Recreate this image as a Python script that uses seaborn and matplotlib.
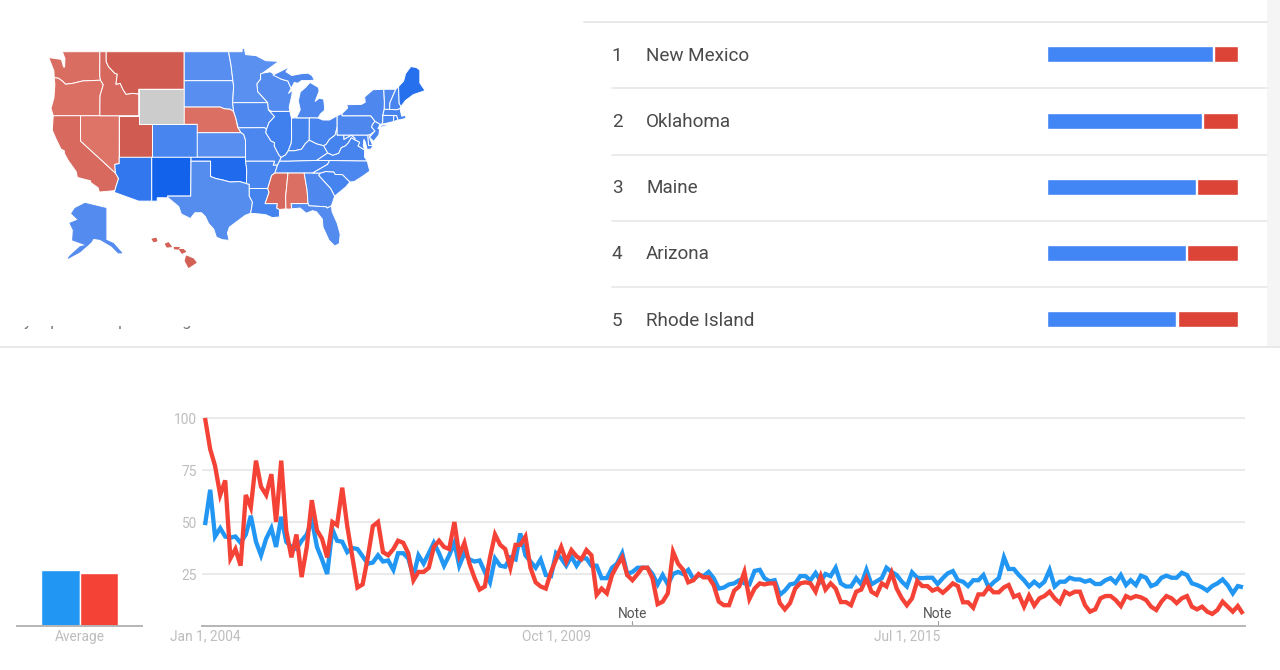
import numpy as np
import pandas as pd
import matplotlib
matplotlib.use('Agg')
import matplotlib.pyplot as plt
from matplotlib.patches import Polygon, Rectangle
from matplotlib.transforms import Bbox, TransformedBbox
import seaborn as sns

# ---- data ----
blue_term = [48.5, 65.5, 43, 47, 43, 42.5, 43, 40, 44, 53, 40.5, 34, 42, 47, 38, 52.5, 40.5, 38, 37, 41, 44, 51, 38, 32,
             25, 46.5, 41, 40.5, 35.5, 37.5, 37, 33.5, 30, 30.5, 34, 31, 31.5, 27, 35, 35, 32.5, 24, 34, 30, 35, 40, 35, 29,
             34, 40, 29, 35, 32, 31, 31.5, 26, 21, 32.5, 29, 28.5, 33, 32, 44.5, 34, 31, 28, 32, 24.5, 24,
             35, 32.5, 29, 33.5, 29, 32.5, 32.5, 29, 29, 23, 23, 28, 30, 35, 25, 26, 28, 28, 28, 25, 20, 24.5, 20, 25, 26, 25, 27,
             22.5, 24.5, 24, 26, 23, 18, 18.5, 20, 20.5, 22, 20.5, 20, 26.5, 27, 23, 21.5, 22, 15, 17, 20, 20.5, 24, 24, 22, 25.5,
             21.5, 25, 24, 28, 20.5, 19, 19, 23, 20, 27, 20, 21.5, 23, 28,
             26, 24.5, 21.3, 19, 25.8, 23.2, 23, 23.2, 23.2, 20.2, 23, 25.3, 26.4, 22, 21.3, 19.2, 22, 22, 24.5, 18.6,
             21, 23, 33, 27.4, 27.4, 24.5, 22, 19, 21.3, 19.2, 21.3, 27, 19, 21.3, 21.3, 23.2, 22.4, 22.4, 21.3, 22,
             20.2, 20.2, 22, 23, 20.8, 24.5, 19.7, 22, 19.7, 24.2, 23.2, 19.2, 20.2, 23.2, 24.2, 23.2, 23.2, 25.6, 24.5, 20.5,
             19.7, 18.6, 17, 19.2, 20.5, 22.4, 19.7, 15.7, 19.2, 18.6]
red_term = [100, 85, 77, 63, 70, 32.5, 37, 29, 63, 57, 79.5, 67, 63, 73, 50, 79.5, 46, 33, 44, 23.5, 38, 60.5, 46, 42,
            33, 50, 48.5, 66.5, 48, 33, 18.5, 20, 33, 48, 50, 35.5, 34, 37, 41, 40, 35, 22, 26, 26, 28, 38, 41, 38,
            37, 50, 34, 40, 30, 23, 17.5, 19, 33, 44, 39, 37, 28, 39, 39, 43, 28, 21, 19, 18, 26,
            32, 38, 31, 36.5, 33.5, 32, 36.5, 34, 15, 18, 15.7, 24.5, 29, 33, 24.5, 22, 25, 28, 28, 23, 10.5, 11.7, 15.7, 35.7, 30, 27,
            21, 22, 25, 23.4, 23.4, 19.7, 11.7, 10, 10, 17, 19, 26, 13, 18, 20.5, 20, 20.5, 20.5, 11, 8, 11, 18, 20.5, 21, 20.5, 16.5,
            24, 17.5, 20.5, 18, 11.5, 11.5, 10, 16.5, 17.5, 23, 16.5, 15, 20.5, 19,
            25.6, 18, 13.3, 10, 13.3, 21.6, 19.2, 19.2, 17, 18, 16, 18, 20.5, 19.2, 11.4, 11.4, 8.8, 15.2, 15.2, 18.6,
            16.2, 16.2, 18.6, 19.7, 14, 15, 9.3, 14.6, 9.8, 13.3, 14.4, 16.5, 13.3, 11, 16.5, 15.2, 16.5, 16.5, 10, 6.9,
            8, 13.3, 14.4, 14.4, 12.5, 9.6, 14.4, 13.3, 14.4, 13.8, 12.5, 9.3, 7.7, 11.7, 14.4, 13.3, 11, 13.3, 14.4, 9.3,
            8, 9.3, 6.9, 5.8, 7.7, 11.7, 9.3, 6.9, 9.6, 5.8]
average_values = [26.7, 25.7]
term_names = ['Blue term', 'Red term']

y_ticks = [25, 50, 75, 100]
x_tick_dates = ['2004-01-01', '2009-10-01', '2015-07-01']
x_tick_labels = ['Jan 1, 2004', 'Oct 1, 2009', 'Jul 1, 2015']
note_dates = ['2011-01-01', '2016-01-01']

top_regions = ['New Mexico', 'Oklahoma', 'Maine', 'Arizona', 'Rhode Island']
blue_shares = [0.876, 0.816, 0.785, 0.735, 0.684]

# blue share of each state, None where there is no data
state_share = {
    'WA': .43, 'OR': .44, 'CA': .41, 'NV': .46, 'ID': .40, 'MT': .34, 'WY': None, 'UT': .34, 'CO': .64, 'AZ': .735,
    'NM': .876, 'ND': .58, 'SD': .58, 'NE': .44, 'KS': .58, 'OK': .816, 'TX': .59, 'MN': .57, 'IA': .62, 'MO': .63,
    'AR': .64, 'LA': .66, 'WI': .60, 'IL': .68, 'IN': .66, 'MI': .62, 'MIU': .62, 'OH': .65, 'KY': .64, 'TN': .64,
    'MS': .40, 'AL': .44, 'GA': .62, 'FL': .60, 'SC': .66, 'NC': .63, 'VA': .65, 'WV': .66, 'MD': .64, 'DE': .62,
    'PA': .62, 'NJ': .64, 'NY': .62, 'NYL': .62, 'CT': .64, 'RI': .684, 'MA': .64, 'VT': .62, 'NH': .64, 'ME': .785,
    'AK': .60, 'HI': .36,
}

# state outlines, lon/lat, simplified
WA = [(-124.9,48.4),(-122.95,48.2),(-122.6,47.4),(-122.45,47.4),(-122.4,48.3),(-122.8,49),(-117.03,49),(-117.04,46.4),(-116.92,45.99),(-119,45.93),(-119.6,45.92),(-121.2,45.65),(-122.3,45.55),(-122.8,45.9),(-123.4,46.2),(-124.05,46.27),(-124.1,47)]
OR = [(-124.05,46.27),(-123.4,46.2),(-122.8,45.9),(-122.3,45.55),(-121.2,45.65),(-119.6,45.92),(-119,45.93),(-116.92,45.99),(-116.5,45.5),(-117,44.3),(-117.03,42),(-124.2,42),(-124.55,42.85),(-124.1,44),(-123.95,45.5)]
CA = [(-124.2,42),(-120,42),(-120,39),(-114.63,35),(-114.15,34.3),(-114.5,33.4),(-114.72,32.72),(-117.12,32.53),(-117.3,33.1),(-118.4,33.75),(-118.5,34.03),(-119.2,34.15),(-120.5,34.45),(-120.65,35.15),(-121.9,36.6),(-122.5,37.5),(-122.5,37.8),(-123,38),(-123.8,39.3),(-124.35,40.3)]
NV = [(-120,42),(-114.04,42),(-114.05,37),(-114.05,36.2),(-114.73,36.1),(-114.63,35),(-120,39)]
ID = [(-117.03,49),(-116.05,49),(-116.05,47.97),(-115.7,47.45),(-114.75,46.75),(-114.35,46.65),(-114.55,45.55),(-113.9,45.65),(-113.45,44.95),(-113,44.45),(-112,44.55),(-111.05,44.48),(-111.05,42),(-117.03,42),(-117,44.3),(-116.5,45.5),(-116.92,45.99),(-117.04,46.4)]
MT = [(-116.05,49),(-104.05,49),(-104.05,45),(-111.05,45),(-111.05,44.48),(-112,44.55),(-113,44.45),(-113.45,44.95),(-113.9,45.65),(-114.55,45.55),(-114.35,46.65),(-114.75,46.75),(-115.7,47.45),(-116.05,47.97)]
WY = [(-111.05,45),(-104.05,45),(-104.05,41),(-111.05,41)]
UT = [(-114.05,42),(-111.05,42),(-111.05,41),(-109.05,41),(-109.05,37),(-114.05,37)]
CO = [(-109.05,41),(-102.05,41),(-102.05,37),(-109.05,37)]
AZ = [(-114.05,37),(-109.05,37),(-109.05,31.33),(-111.07,31.33),(-114.82,32.5),(-114.72,32.72),(-114.5,33.4),(-114.15,34.3),(-114.63,35),(-114.73,36.1),(-114.05,36.2)]
NM = [(-109.05,37),(-103,37),(-103.05,32),(-106.62,32),(-106.53,31.78),(-108.2,31.78),(-108.2,31.33),(-109.05,31.33)]
ND = [(-104.05,49),(-97.23,49),(-96.85,47.6),(-96.56,45.94),(-104.05,45.94)]
SD = [(-104.05,45.94),(-96.56,45.94),(-96.45,45.3),(-96.6,43.5),(-96.45,42.49),(-97,42.75),(-97.9,42.8),(-98.5,43),(-104.05,43)]
NE = [(-104.05,43),(-98.5,43),(-97.9,42.8),(-97,42.75),(-96.45,42.49),(-96.1,41.7),(-95.85,40.7),(-95.3,40),(-102.05,40),(-102.05,41),(-104.05,41)]
KS = [(-102.05,40),(-95.3,40),(-94.9,39.8),(-94.62,39.1),(-94.62,37),(-102.05,37)]
OK = [(-103,37),(-94.62,37),(-94.43,35.4),(-94.48,33.64),(-95.5,33.9),(-97,33.85),(-98.1,34.1),(-99.2,34.3),(-100,34.56),(-100,36.5),(-103,36.5)]
TX = [(-103,36.5),(-100,36.5),(-100,34.56),(-99.2,34.3),(-98.1,34.1),(-97,33.85),(-95.5,33.9),(-94.48,33.64),(-94.04,33.55),(-94.04,33),(-94.04,32),(-93.55,31.2),(-93.7,30.3),(-93.85,29.7),(-94.7,29.4),(-95.9,28.6),(-97.1,27.8),(-97.4,27),(-97.15,25.95),(-98.2,26.05),(-99.1,26.4),(-99.5,27.5),(-100.3,28.3),(-100.8,29.25),(-101.4,29.77),(-102.4,29.77),(-103.1,28.98),(-104.5,29.6),(-104.9,30.6),(-106.53,31.78),(-106.62,32),(-103.05,32)]
MN = [(-97.23,49),(-95.15,49),(-95.15,49.38),(-94.8,49.3),(-94.6,48.7),(-93,48.6),(-91.5,48.07),(-89.5,48),(-92,46.75),(-92.3,46.66),(-92.3,46.1),(-92.85,45.6),(-92.75,44.75),(-91.2,43.5),(-96.6,43.5),(-96.45,45.3),(-96.56,45.94),(-96.85,47.6)]
IA = [(-96.6,43.5),(-91.2,43.5),(-91.1,42.7),(-90.15,41.9),(-91,41.2),(-91.4,40.4),(-91.7,40.6),(-95.75,40.58),(-96.1,41.7),(-96.45,42.49)]
MO = [(-95.75,40.58),(-91.7,40.6),(-91.4,40.4),(-91.5,40),(-90.7,39),(-90.15,38.8),(-90.2,38.4),(-89.5,37.3),(-89.13,36.98),(-89.4,36.5),(-89.7,36),(-90.37,36),(-90.15,36.5),(-94.62,36.5),(-94.62,39.1),(-94.9,39.8),(-95.3,40)]
AR = [(-94.62,36.5),(-90.15,36.5),(-90.37,36),(-89.7,36),(-90.1,35),(-90.6,34.7),(-91.2,33),(-94.04,33),(-94.04,33.55),(-94.48,33.64),(-94.43,35.4)]
LA = [(-94.04,33),(-91.2,33),(-91,32.5),(-91.6,31),(-89.73,31),(-89.8,30.4),(-89.4,30.2),(-89.4,29.2),(-90.5,29.1),(-91.5,29.5),(-92.5,29.6),(-93.85,29.7),(-93.7,30.3),(-93.55,31.2),(-94.04,32)]
WI = [(-92.3,46.66),(-92,46.75),(-90.8,46.9),(-89.1,46.1),(-88.1,45.9),(-87.6,45.1),(-88,44.55),(-87.4,44.9),(-87.5,44.3),(-87.9,43),(-87.8,42.5),(-90.65,42.5),(-91.1,42.7),(-91.2,43.5),(-92.75,44.75),(-92.85,45.6),(-92.3,46.1)]
IL = [(-90.65,42.5),(-87.8,42.5),(-87.55,41.7),(-87.53,39.35),(-87.6,38.7),(-88.05,37.8),(-88.45,37.3),(-89.13,36.98),(-89.5,37.3),(-90.2,38.4),(-90.15,38.8),(-90.7,39),(-91.5,40),(-91.4,40.4),(-91,41.2),(-90.15,41.9),(-91.1,42.7)]
IN = [(-87.55,41.7),(-87.2,41.75),(-84.8,41.75),(-84.82,39.1),(-85.4,38.7),(-86,38),(-87.1,37.8),(-88.05,37.8),(-87.6,38.7),(-87.53,39.35)]
MI = [(-86.8,41.76),(-84.8,41.75),(-83.45,41.73),(-83.1,42.2),(-82.5,42.6),(-82.45,43),(-82.6,43.9),(-83.3,44),(-83.9,43.65),(-83.3,44.8),(-83.4,45.2),(-84.7,45.75),(-85.4,45.2),(-86.2,44.7),(-86.5,43.7),(-86.2,42.7)]
MIU = [(-90.4,46.55),(-88.5,47.2),(-87.9,47.45),(-88.4,46.9),(-87.5,46.5),(-86,46.7),(-85,46.75),(-84.4,46.5),(-84,46),(-84.8,45.95),(-86,45.95),(-86.6,45.65),(-87.1,45.75),(-87.6,45.1),(-88.1,45.9),(-89.1,46.1)]
OH = [(-84.8,41.75),(-83.45,41.73),(-82.7,41.5),(-81.7,41.5),(-80.52,42),(-80.52,40.64),(-80.85,39.7),(-81.7,39.2),(-82.2,38.6),(-82.6,38.42),(-83.7,38.65),(-84.82,39.1)]
KY = [(-89.13,36.98),(-88.45,37.3),(-88.05,37.8),(-87.1,37.8),(-86,38),(-85.4,38.7),(-84.82,39.1),(-83.7,38.65),(-82.6,38.42),(-81.97,37.54),(-83.68,36.6),(-88.05,36.5),(-89.4,36.5)]
TN = [(-90.1,35),(-89.7,36),(-89.4,36.5),(-88.05,36.5),(-83.68,36.6),(-81.68,36.59),(-82,36.1),(-84.3,35),(-85.6,35),(-88.2,35)]
MS = [(-91.2,33),(-90.6,34.7),(-90.1,35),(-88.2,35),(-88.1,34.9),(-88.45,31.9),(-88.4,30.3),(-89.4,30.2),(-89.8,30.4),(-89.73,31),(-91.6,31),(-91,32.5)]
AL = [(-88.2,35),(-85.6,35),(-85.15,32.8),(-85,31),(-87.6,31),(-87.5,30.3),(-88,30.25),(-88.4,30.3),(-88.45,31.9),(-88.1,34.9)]
GA = [(-85.6,35),(-84.3,35),(-83.1,35),(-83.35,34.7),(-81.5,33),(-80.9,32),(-81.4,30.7),(-82.05,30.4),(-82.2,30.57),(-84.85,30.7),(-85,31),(-85.15,32.8)]
FL = [(-87.6,31),(-85,31),(-84.85,30.7),(-82.2,30.57),(-82.05,30.4),(-81.4,30.7),(-81.3,29.9),(-80.5,28.3),(-80.05,26.8),(-80.2,25.5),(-80.9,25.15),(-81.8,26),(-82.7,27.8),(-82.8,28.9),(-83.7,29.9),(-84.3,30.05),(-85.3,29.7),(-86.2,30.4),(-87.5,30.3)]
SC = [(-83.35,34.7),(-83.1,35),(-82.3,35.2),(-81.05,35.15),(-80.8,34.82),(-79.7,34.8),(-78.55,33.85),(-79.2,33.2),(-80.9,32),(-81.5,33)]
NC = [(-84.3,35),(-82,36.1),(-81.68,36.59),(-75.9,36.55),(-75.5,35.25),(-76.5,34.65),(-77.9,33.9),(-78.55,33.85),(-79.7,34.8),(-80.8,34.82),(-81.05,35.15),(-82.3,35.2),(-83.1,35)]
VA = [(-83.68,36.6),(-81.97,37.54),(-81.2,37.25),(-80.3,37.5),(-79.9,38.2),(-79.3,38.4),(-78.85,38.75),(-78.35,39.4),(-77.8,39.15),(-77.05,38.85),(-77.3,38.4),(-76.3,37.9),(-76.3,37),(-75.9,36.55),(-81.68,36.59)]
WV = [(-82.6,38.42),(-82.2,38.6),(-81.7,39.2),(-80.85,39.7),(-80.52,40.64),(-80.52,39.72),(-79.48,39.72),(-79.48,39.2),(-78.35,39.7),(-77.75,39.32),(-77.8,39.15),(-78.35,39.4),(-78.85,38.75),(-79.3,38.4),(-79.9,38.2),(-80.3,37.5),(-81.2,37.25),(-81.97,37.54)]
MD = [(-79.48,39.72),(-75.79,39.72),(-75.69,38.46),(-75.05,38.45),(-75.25,38.03),(-75.9,37.95),(-76.2,38.9),(-76.4,39.2),(-76.5,38.5),(-76.3,37.9),(-77.3,38.4),(-77.05,38.85),(-77.8,39.15),(-77.75,39.32),(-78.35,39.7),(-79.48,39.2)]
DE = [(-75.79,39.72),(-75.42,39.8),(-75.55,39.45),(-75.05,38.45),(-75.69,38.46)]
PA = [(-80.52,42),(-79.76,42.27),(-79.76,42),(-75.35,42),(-74.7,41.36),(-75.1,40.95),(-75.2,40.65),(-74.7,40.2),(-75.42,39.8),(-75.79,39.72),(-80.52,39.72),(-80.52,40.64)]
NJ = [(-74.7,41.36),(-73.9,41),(-74.25,40.5),(-74,40.45),(-74.1,39.75),(-74.9,38.95),(-75.55,39.45),(-74.7,40.2),(-75.2,40.65),(-75.1,40.95)]
NY = [(-79.76,42.27),(-78.9,42.9),(-79.05,43.27),(-76.8,43.3),(-76.2,43.55),(-76.3,44.15),(-75,44.95),(-73.35,45),(-73.25,43.6),(-73.27,42.75),(-73.5,42.05),(-73.5,41.3),(-73.65,41),(-73.9,41),(-74.7,41.36),(-75.35,42),(-79.76,42)]
NYL = [(-74,40.6),(-72,41.05),(-73.7,40.9)]
CT = [(-73.5,42.05),(-71.8,42.02),(-71.85,41.32),(-73.65,41),(-73.5,41.3)]
RI = [(-71.8,42.02),(-71.38,42.02),(-71.15,41.5),(-71.85,41.32)]
MA = [(-73.5,42.05),(-73.27,42.75),(-71.3,42.7),(-70.85,42.85),(-70.6,41.95),(-70,42.05),(-69.95,41.7),(-70.7,41.55),(-71.15,41.5),(-71.38,42.02),(-71.8,42.02)]
VT = [(-73.35,45),(-71.5,45),(-72.4,43.5),(-72.46,42.73),(-73.27,42.75),(-73.25,43.6)]
NH = [(-71.5,45),(-71.08,45.3),(-70.98,43.4),(-70.7,43.07),(-70.85,42.85),(-71.3,42.7),(-72.46,42.73),(-72.4,43.5)]
ME = [(-71.08,45.3),(-70.3,45.9),(-70,46.7),(-69.2,47.45),(-68.3,47.35),(-67.8,47.07),(-67.8,45.7),(-67,44.85),(-68.8,44.4),(-70,43.75),(-70.7,43.07),(-70.98,43.4)]
AK = [(-164.2,69.7),(-156.7,71.2),(-141,69.7),(-141,60.3),(-135.4,59.3),(-129.1,56.5),(-131.7,56.5),(-136.7,58.5),(-145.4,60.5),(-150.5,60.8),(-152.4,59.6),(-160.5,56.8),(-169.3,54.9),(-168,55.6),(-160.5,58.3),(-155.5,58.8),(-166,60.3),(-165.5,63.3),(-168,65.3),(-161.8,66.3),(-166.7,68.2)]
HI = [[(-159.8,22.15),(-159.35,22.25),(-159.25,21.95),(-159.6,21.85)],
      [(-158.3,21.6),(-157.95,21.75),(-157.6,21.3),(-158.1,21.25)],
      [(-157.3,21.22),(-156.7,21.2),(-156.85,21.02),(-157.25,21.05)],
      [(-156.7,20.98),(-156.25,20.98),(-155.98,20.75),(-156.4,20.55)],
      [(-155.9,20.25),(-155.1,19.9),(-154.8,19.5),(-155.65,18.95),(-156.05,19.7)]]

conus = dict(WA=WA, OR=OR, CA=CA, NV=NV, ID=ID, MT=MT, WY=WY, UT=UT, CO=CO, AZ=AZ, NM=NM, ND=ND, SD=SD, NE=NE, KS=KS,
             OK=OK, TX=TX, MN=MN, IA=IA, MO=MO, AR=AR, LA=LA, WI=WI, IL=IL, IN=IN, MI=MI, MIU=MIU, OH=OH, KY=KY, TN=TN,
             MS=MS, AL=AL, GA=GA, FL=FL, SC=SC, NC=NC, VA=VA, WV=WV, MD=MD, DE=DE, PA=PA, NJ=NJ, NY=NY, NYL=NYL, CT=CT,
             RI=RI, MA=MA, VT=VT, NH=NH, ME=ME)

# ---- style ----
sns.set_theme(style='white')
plt.rcParams['font.family'] = ['Roboto', 'DejaVu Sans']

BLUE = '#2196F3'
RED = '#F44336'
BAR_BLUE = '#4285F4'
BAR_RED = '#DB4437'
RULE = '#E8E8E8'
TICK_TEXT = '#BDBDBD'
W, H = 1280, 670

blue_cmap = sns.blend_palette(['#6A9AF0', '#1162EC'], as_cmap=True)
red_cmap = sns.blend_palette(['#E27B70', '#CC5449'], as_cmap=True)


def share_color(share):
    if share is None:
        return '#CCCCCC'
    if share >= 0.5:
        return blue_cmap((share - 0.5) / 0.38)
    return red_cmap((0.5 - share) / 0.2)


def px_axes(left, top, right, bottom):
    a = fig.add_axes([left / W, 1 - bottom / H, (right - left) / W, (bottom - top) / H])
    a.patch.set_alpha(0)
    return a


def mercator(lat):
    return np.degrees(np.log(np.tan(np.pi / 4 + np.radians(lat) / 2)))


def add_shape(ax, pts, share, project=False, edge='white'):
    pts = np.array(pts, dtype=float)
    if project:
        pts[:, 1] = mercator(pts[:, 1])
    color = share_color(share)
    ax.add_patch(Polygon(pts, closed=True, facecolor=color, edgecolor=color if edge is None else edge,
                         linewidth=0.7, joinstyle='round'))


fig = plt.figure(figsize=(W / 100, H / 100), dpi=100, facecolor='white')

# page furniture, in pixel coordinates
page = px_axes(0, 0, W, H)
page.set_xlim(0, W)
page.set_ylim(H, 0)
page.axis('off')
page.add_patch(Rectangle((1267, 0), 13, 346, facecolor='#F5F5F5', edgecolor='none'))
page.plot([584, 1267], [21.5, 21.5], color=RULE, lw=1.4)
page.plot([0, W], [347, 347], color=RULE, lw=1.4)

row_mid = 54.3
row_step = 66.2
for i, name in enumerate(top_regions):
    y = row_mid + i * row_step
    page.text(617, y + 1.5, str(i + 1), ha='center', va='center', fontsize=13.6, color='#4A4A4A')
    page.text(646, y + 1.5, name, ha='left', va='center', fontsize=13.6, color='#4A4A4A')
    if i < len(top_regions) - 1:
        page.plot([612, 1267], [y + row_step / 2 + 1, y + row_step / 2 + 1], color=RULE, lw=1.2)

# caption is cut off by the panel edge, only the descenders show
caption = page.text(24, 326, 'y represents percentage of searches', ha='left', va='baseline',
                    fontsize=11.8, color='#777777')
caption.set_clip_box(TransformedBbox(Bbox([[0, 325.5], [400, 332]]), page.transData))
caption.set_clip_on(True)

# map of the lower 48
map_ax = px_axes(0, 0, 560, 345)
map_ax.set_xlim(-124.7 - 50 / 6.5, -124.7 + 510 / 6.5)
map_ax.set_ylim(mercator(49) - (345 - 51.7) / 6.4, mercator(49) + 51.7 / 6.4)
map_ax.axis('off')
for code, outline in conus.items():
    add_shape(map_ax, outline, state_share[code], project=True)

ak_ax = px_axes(60, 195, 130, 265)
ak_ax.set_xlim(-168 - 10 / 1.33, -168 + 60 / 1.33)
ak_ax.set_ylim(71.3 - 62 / 3.37, 71.3 + 8 / 3.37)
ak_ax.axis('off')
add_shape(ak_ax, AK, state_share['AK'], edge=None)

hi_ax = px_axes(145, 230, 200, 272)
hi_ax.set_xlim(-159.5 - 9.7 / 8.8, -155.5 + 10 / 8.8)
hi_ax.set_ylim(19.6 - 10.3 / 8.86, 22.05 + 10 / 8.86)
hi_ax.axis('off')
for island in HI:
    add_shape(hi_ax, island, state_share['HI'], edge=None)

# share bars per region, red full width with blue laid over it
bar_ax = px_axes(1047, row_mid - row_step / 2, 1238, row_mid + 4.5 * row_step)
sns.barplot(x=[1.0] * len(top_regions), y=top_regions, color=BAR_RED, saturation=1, width=16 / row_step, ax=bar_ax, orient='h')
sns.barplot(x=blue_shares, y=top_regions, color='white', saturation=1, width=16 / row_step, ax=bar_ax, orient='h')
sns.barplot(x=[s - 0.006 for s in blue_shares], y=top_regions, color=BAR_BLUE, saturation=1, width=16 / row_step, ax=bar_ax, orient='h')
bar_ax.set_xlim(0, 1)
bar_ax.axis('off')

# average bars
avg_ax = px_axes(17, 418, 142, 626)
sns.barplot(x=term_names, y=average_values, hue=term_names, palette=[BLUE, RED], saturation=1, width=1, legend=False, ax=avg_ax)
avg_ax.set_xlim(-1.13, 2.13)
avg_ax.set_ylim(0, 100)
avg_ax.set_yticks([])
avg_ax.set_xticks([0.5])
avg_ax.set_xticklabels(['Average'], fontsize=9.9, color=TICK_TEXT)
avg_ax.tick_params(axis='x', length=0, pad=3)
avg_ax.set_xlabel('')
avg_ax.set_ylabel('')
sns.despine(ax=avg_ax, left=True)
avg_ax.spines['bottom'].set_color('#B5B5B5')
avg_ax.spines['bottom'].set_linewidth(1.4)

# trend lines
dates = pd.date_range('2004-01-01', periods=len(blue_term), freq='MS')
trend = pd.DataFrame({'date': dates, term_names[0]: blue_term, term_names[1]: red_term})
trend = trend.melt(id_vars='date', var_name='term', value_name='interest')

ax = px_axes(202, 400, 1245, 626)
ax.set_axisbelow(True)
ax.yaxis.grid(True, color='#EAEAEA', lw=1.4)
sns.lineplot(data=trend, x='date', y='interest', hue='term', palette=[BLUE, RED], linewidth=3.1, legend=False,
             errorbar=None, ax=ax, solid_joinstyle='miter', solid_capstyle='butt')
ax.set_xlim(dates[0] - pd.Timedelta(days=18), dates[-1] + pd.Timedelta(days=12))
ax.set_ylim(0, 226 / 2.08)
ax.set_yticks(y_ticks)
ax.set_yticklabels([str(v) for v in y_ticks], fontsize=9.9, color=TICK_TEXT)
ax.set_xticks(pd.to_datetime(x_tick_dates))
ax.set_xticklabels(x_tick_labels, fontsize=9.9, color=TICK_TEXT)
ax.tick_params(axis='both', length=0, pad=4)
ax.tick_params(axis='x', pad=2.5)
ax.set_xlabel('')
ax.set_ylabel('')
sns.despine(ax=ax, left=True)
ax.spines['bottom'].set_color('#B5B5B5')
ax.spines['bottom'].set_linewidth(1.4)

for d in pd.to_datetime(note_dates):
    ax.plot([d, d], [0, 2.5], color='#9E9E9E', lw=0.8)
    ax.text(d, 2.4, 'Note', ha='center', va='bottom', fontsize=9.9, color='#555555')

fig.savefig('out.png', dpi=100)
